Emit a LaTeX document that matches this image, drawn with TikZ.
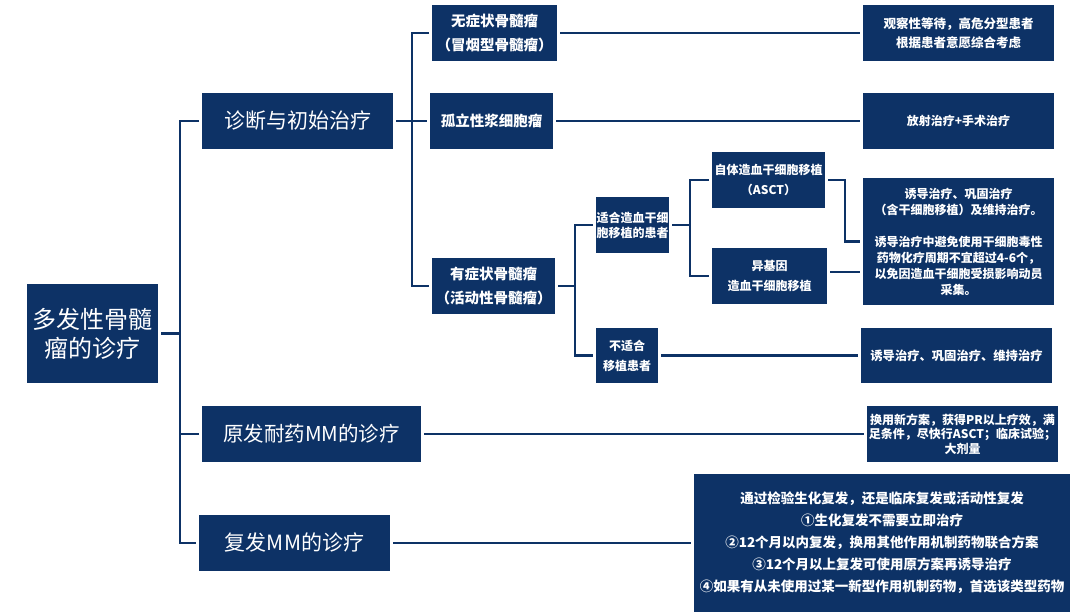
\documentclass[tikz,border=0pt]{standalone}
\usepackage{fontspec}
\setmainfont{Noto Sans CJK SC}
\definecolor{navy}{HTML}{0D3266}
\begin{document}
\begin{tikzpicture}[x=1pt,y=-1pt,
  box/.style={fill=navy,text=white,inner sep=0pt,outer sep=3pt,align=center},
  hbox/.style={box,font=\fontsize{21}{26}\selectfont},
  mbox/.style={box,font=\bfseries\fontsize{14.5}{24}\selectfont},
  sbox/.style={box,font=\bfseries\fontsize{12}{19}\selectfont},
  conn/.style={draw=navy,line width=2.6pt}]
\useasboundingbox (0,0) rectangle (1080,616);
% level 0
\node[box,minimum width=131pt,minimum height=99pt,font=\fontsize{24}{29}\selectfont] (root) at (92.5,333.5) {多发性骨髓\\瘤的诊疗};
% level 1
\node[hbox,minimum width=191pt,minimum height=56pt] (diag) at (297.5,121) {诊断与初始治疗};
\node[hbox,minimum width=219pt,minimum height=56pt,font=\fontsize{20.5}{26}\selectfont] (nai) at (311.5,434) {原发耐药MM的诊疗};
\node[hbox,minimum width=191pt,minimum height=56pt] (fu) at (294.5,543) {复发MM的诊疗};
% level 2
\node[mbox,minimum width=125pt,minimum height=56pt] (wu) at (494.5,33) {无症状骨髓瘤\\（冒烟型骨髓瘤）};
\node[mbox,minimum width=123pt,minimum height=56pt] (gu) at (491.5,121) {孤立性浆细胞瘤};
\node[mbox,minimum width=123pt,minimum height=56pt] (you) at (493.5,286) {有症状骨髓瘤\\（活动性骨髓瘤）};
% level 3
\node[sbox,minimum width=73pt,minimum height=56pt,font=\bfseries\fontsize{12}{15}\selectfont] (shihe) at (632.5,225) {适合造血干细\\胞移植的患者};
\node[sbox,minimum width=62pt,minimum height=55pt,font=\bfseries\fontsize{12}{20}\selectfont] (bushi) at (627,355.5) {不适合\\移植患者};
\node[sbox,minimum width=113pt,minimum height=56pt,font=\bfseries\fontsize{12}{20}\selectfont] (asct) at (768.5,180) {自体造血干细胞移植\\（ASCT）};
\node[sbox,minimum width=115pt,minimum height=56pt,font=\bfseries\fontsize{12}{20}\selectfont] (yi) at (769.5,276) {异基因\\造血干细胞移植};
% right column
\node[sbox,minimum width=191pt,minimum height=56pt,font=\bfseries\fontsize{12.5}{19}\selectfont] (obs) at (958.5,33) {观察性等待，高危分型患者\\根据患者意愿综合考虑};
\node[sbox,minimum width=191pt,minimum height=56pt] (rad) at (958.5,121) {放射治疗+手术治疗};
\node[sbox,minimum width=191pt,minimum height=127pt,font=\bfseries\fontsize{12}{16}\selectfont] (big) at (958.5,241.5) {诱导治疗、巩固治疗\\（含干细胞移植）及维持治疗。\\[16pt]诱导治疗中避免使用干细胞毒性\\药物化疗周期不宜超过4-6个，\\以免因造血干细胞受损影响动员\\采集。};
\node[sbox,minimum width=191pt,minimum height=55pt,font=\bfseries\fontsize{12.3}{19}\selectfont] (wei) at (956.5,355.5) {诱导治疗、巩固治疗、维持治疗};
\node[sbox,minimum width=191pt,minimum height=56pt,font=\bfseries\fontsize{12}{14.5}\selectfont] (nair) at (962.5,434) {换用新方案，获得PR以上疗效，满\\足条件，尽快行ASCT；临床试验；\\大剂量};
\node[sbox,minimum width=376pt,minimum height=138pt,font=\bfseries\fontsize{13.5}{22}\selectfont] (fur) at (882,543) {通过检验生化复发，还是临床复发或活动性复发\\①生化复发不需要立即治疗\\②12个月以内复发，换用其他作用机制药物联合方案\\③12个月以上复发可使用原方案再诱导治疗\\④如果有从未使用过某一新型作用机制药物，首选该类型药物};
% bus coordinates
\coordinate (b1) at (180,0);
\coordinate (b2) at (412,0);
\coordinate (b3) at (575,0);
\coordinate (b4) at (690,0);
\coordinate (b5) at (845,0);
\coordinate (yiout) at ([yshift=4pt]yi.east);
% connectors
\draw[conn] (diag.west) -- (diag.west -| b1) -- (fu.west -| b1) -- (fu.west);
\draw[conn] (root.east) -- (root.east -| b1);
\draw[conn] (nai.west) -- (nai.west -| b1);
\draw[conn] (wu.west) -- (wu.west -| b2) -- (you.west -| b2) -- (you.west);
\draw[conn] (diag.east) -- (gu.west);
\draw[conn] (wu.east) -- (obs.west);
\draw[conn] (gu.east) -- (rad.west);
\draw[conn] (shihe.west) -- (shihe.west -| b3) -- (bushi.west -| b3) -- (bushi.west);
\draw[conn] (you.east) -- (you.east -| b3);
\draw[conn] (asct.west) -- (asct.west -| b4) -- (yi.west -| b4) -- (yi.west);
\draw[conn] (shihe.east) -- (shihe.east -| b4);
\draw[conn] (asct.east) -- (asct.east -| b5) |- (big.west);
\draw[conn] (yiout) -- (yiout -| big.west);
\draw[conn] (bushi.east) -- (wei.west);
\draw[conn] (nai.east) -- (nai.east -| nair.west);
\draw[conn] (fu.east) -- (fu.east -| fur.west);
\end{tikzpicture}
\end{document}
